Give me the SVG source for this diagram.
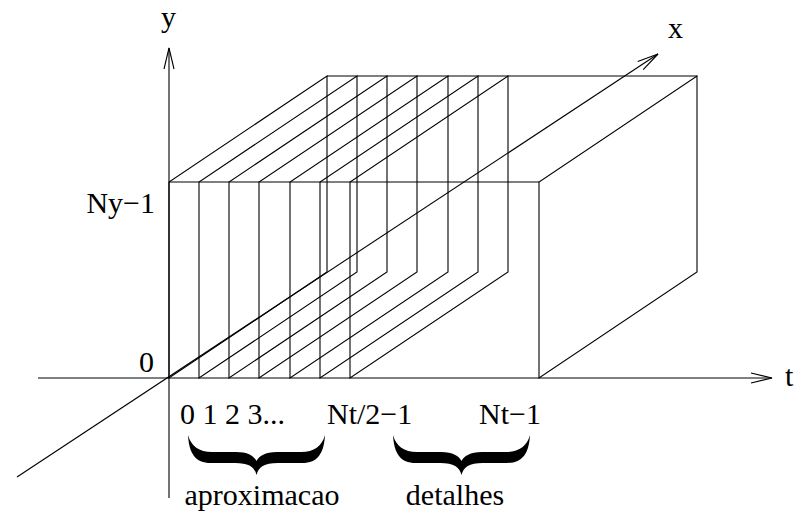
<svg xmlns="http://www.w3.org/2000/svg" width="799" height="517" viewBox="0 0 799 517">
<style>
  .ln { fill: none; stroke: #000; stroke-width: 1.1; }
  .lbl { font-family: "Liberation Serif", "Times New Roman", serif; font-size: 30px; fill: #000; }
  .brace { fill: #000; stroke: none; }
</style>
<defs>
  <marker id="arr" markerUnits="userSpaceOnUse" markerWidth="24" markerHeight="14" refX="0" refY="0" viewBox="-22 -7 24 14" orient="auto" overflow="visible">
    <path d="M-21,-5 L0,0 L-21,5" fill="none" stroke="#000" stroke-width="1.1"/>
  </marker>
  <path id="plane" class="ln" d="M0,378 L0,182 L158,76 L158,272 Z"/>
  <path id="brace" class="brace" d="M0,0 C1,18 7,28 23,28 L47,28 C61,28 66.5,32 68.5,40 C70.5,32 76,28 90,28 L114,28 C130,28 136,18 137,0 C134,11 126,17 113,17 L89,17 C77,17 71,21 68.5,26 C66,21 60,17 48,17 L24,17 C11,17 3,11 0,0 Z"/>
</defs>
<rect width="799" height="517" fill="#fff"/>

<g id="planes">
  <g id="plane-0"><use href="#plane" x="169"/></g>
  <g id="plane-1"><use href="#plane" x="199"/></g>
  <g id="plane-2"><use href="#plane" x="229"/></g>
  <g id="plane-3"><use href="#plane" x="259"/></g>
  <g id="plane-4"><use href="#plane" x="290"/></g>
  <g id="plane-5"><use href="#plane" x="320"/></g>
  <g id="plane-6"><use href="#plane" x="350"/></g>
  <g id="plane-last"><use href="#plane" x="539"/></g>
  <g id="edges">
    <line class="ln" x1="169" y1="182" x2="539" y2="182"/>
    <line class="ln" x1="327" y1="76" x2="697" y2="76"/>
  </g>
</g>

<g id="connectors">
  <line class="ln" x1="169" y1="498" x2="169" y2="48" marker-end="url(#arr)"/>
  <line class="ln" x1="38" y1="378" x2="772" y2="378" marker-end="url(#arr)"/>
  <line class="ln" x1="17" y1="477" x2="658" y2="54" marker-end="url(#arr)"/>
</g>

<g id="braces">
  <g id="brace-aprox"><use href="#brace" x="188" y="435"/></g>
  <g id="brace-det"><use href="#brace" x="393" y="435"/></g>
</g>

<g id="labels">
  <g id="lbl-y"><text class="lbl" x="161" y="27">y</text></g>
  <g id="lbl-x"><text class="lbl" x="668" y="38">x</text></g>
  <g id="lbl-t"><text class="lbl" x="785" y="386">t</text></g>
  <g id="lbl-ny"><text class="lbl" x="155" y="213" text-anchor="end">Ny−1</text></g>
  <g id="lbl-0"><text class="lbl" x="139" y="372">0</text></g>
  <g id="lbl-ticks"><text class="lbl" x="180" y="424">0 1 2 3...</text></g>
  <g id="lbl-nt2"><text class="lbl" x="327" y="424">Nt/2−1</text></g>
  <g id="lbl-nt"><text class="lbl" x="479" y="424">Nt−1</text></g>
  <g id="lbl-aprox"><text class="lbl" x="262" y="505" text-anchor="middle">aproximacao</text></g>
  <g id="lbl-det"><text class="lbl" x="455" y="505" text-anchor="middle">detalhes</text></g>
</g>
</svg>
